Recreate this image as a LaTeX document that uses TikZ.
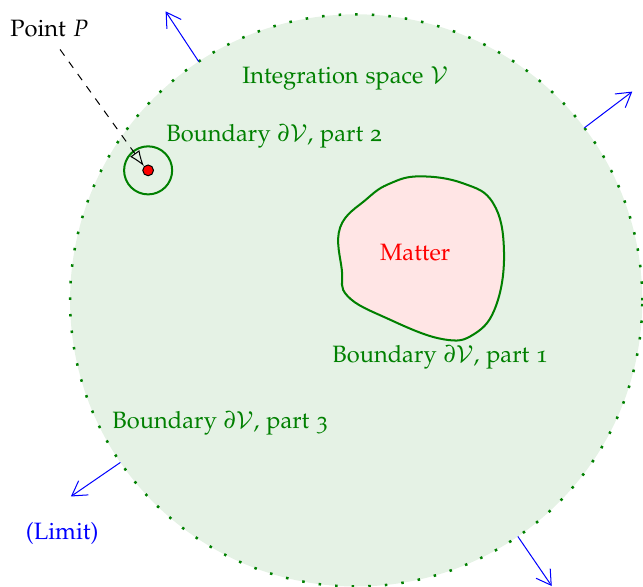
\documentclass[tikz,border=0pt]{standalone}
\usepackage[T1]{fontenc}
\usepackage[osf]{mathpazo}
\usetikzlibrary{arrows.meta}

\colorlet{bgreen}{green!50!black}

\tikzset{
  every node/.style={font=\fontsize{9.4}{11}\selectfont},
  label green/.style={text=bgreen, inner sep=1pt},
  outflow/.style={blue, -{Straight Barb[length=2mm,width=2.4mm]}},
  boundary line/.style={bgreen, thick},
}

\begin{document}
\begin{tikzpicture}
  \useasboundingbox (-4.98,-4.0) rectangle (4.01,4.20);

  \coordinate (o) at (0,0);

  % integration space with its outer dotted boundary
  \fill[bgreen!10] (o) circle (4);
  \draw[bgreen, line width=1pt, dash pattern=on 1pt off 5.6pt] (o) circle (4);

  % region containing the matter
  \draw[boundary line, fill=red!10] plot[smooth cycle, tension=0.7] coordinates {
    (0.476,1.636) (0.895,1.734) (1.497,1.636) (1.916,1.357) (2.066,0.700)
    (1.960,-0.060) (1.650,-0.470) (1.200,-0.540)
    (0.434,-0.252) (-0.120,0.060) (-0.200,0.420)
    (-0.224,1.021) (0.150,1.420)};
  \node[text=red] (matter) at (0.825,0.671) {Matter};

  % small sphere around the point P
  \coordinate (P) at (-2.909,1.818);
  \draw[boundary line] (P) circle (0.336);
  \node[circle, draw=black, fill=red, inner sep=0pt, minimum size=0.15cm] (dot) at (P) {};

  % labels
  \node[label green] (space) at (-0.154,3.10) {Integration space $\mathcal{V}$};
  \node[label green] (part2) at (-1.147,2.29) {Boundary $\partial\mathcal{V}$, part 2};
  \node[label green] (part1) at (1.175,-0.797) {Boundary $\partial\mathcal{V}$, part 1};
  \node[label green] (part3) at (-1.90,-1.72) {Boundary $\partial\mathcal{V}$, part 3};

  \node (plabel) at (-4.29,3.80) {Point $P$};
  \draw[dashed, -{Latex[open,length=2.2mm,width=1.6mm]}] (plabel.south) ++(0.15,-0.05) coordinate (pstart)
    (pstart) -- (dot.north west);

  % outward limit arrows
  \foreach \a/\n in {123.4/a, 37.1/b, 214.5/c, -55.6/d} {
    \coordinate (s\n) at (\a:4);
    \coordinate (e\n) at (\a:4.84);
    \draw[outflow] (s\n) -- (e\n);
  }
  \node[text=blue] (limit) at (-4.11,-3.26) {(Limit)};
\end{tikzpicture}
\end{document}
